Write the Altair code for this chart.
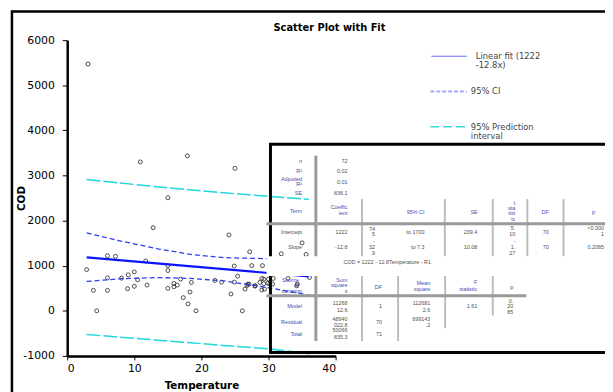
import altair as alt
import pandas as pd

# ---------------- data ----------------
temperature = [3.1, 10.9, 17.9, 25.0, 15.0, 12.8, 24.1,
               2.9, 3.9, 4.4, 6.0, 7.2, 6.0, 6.0, 8.1, 9.1, 10.0, 9.0, 10.0, 10.5, 11.7, 11.9,
               15.0, 15.0, 15.0, 15.9, 15.9, 16.4, 16.9, 17.3, 18.0, 18.3, 18.5, 19.2,
               22.0, 23.0, 24.4, 24.9, 24.9, 25.4, 26.1, 26.5, 26.8, 27.2, 27.5, 28.0, 28.7,
               29.0, 29.1, 29.4, 29.3, 30.2, 29.9,
               31.9, 35.0, 35.6, 36.1, 32.9, 34.2, 30.6, 28.0, 29.0, 27.1, 30.7, 30.0, 34.3,
               29.3, 26.9]
cod = [5470, 3300, 3436, 3158, 2507, 1842, 1682,
       914, 453, 0, 1221, 1206, 731, 453, 724, 797, 862, 490, 542, 687, 1104, 570,
       1002, 892, 497, 607, 533, 570, 702, 292, 153, 417, 629, 0,
       673, 636, 373, 993, 636, 768, 0, 482, 563, 1309, 1002, 548, 629,
       717, 1002, 482, 702, 592, 614,
       1265, 1506, 1250, 739, 717, 555, 592, 555, 460, 592, 717, 702, 592,
       600, 590]

fit_temperature = [2.9, 36.0]
fit_cod = [1185, 761]

ci_temperature = [2.9, 8.0, 13.5, 18.4, 23.3, 29.7, 36.0]
ci_upper = [1726, 1545, 1375, 1250, 1178, 1156, 1185]
ci_lower = [651, 712, 737, 717, 664, 520, 350]

pi_temperature = [2.9, 13.5, 23.3, 30.2, 36.0]
pi_upper = [2910, 2748, 2616, 2535, 2471]
pi_lower = [-526, -651, -768, -845, -950]

x_ticks = [0, 10, 20, 30, 40]
y_ticks = [-1000, 0, 1000, 2000, 3000, 4000, 5000, 6000]

title_text = "Scatter Plot with Fit"
legend_texts = ["Linear fit (1222", "-12.8x)", "95% CI", "95% Prediction", "interval"]
caption_text = "COD = 1222 - 12.8Temperature - R1"

# table text: (text, right-edge x, y, kind)  kind: L = blue label, V = grey value
table_cells = [
    ("n", 306, 160, "L"), ("R²", 306, 171, "L"), ("Adjusted", 306, 179, "L"), ("R²", 306, 184, "L"),
    ("SE", 306, 192.7, "L"),
    ("72", 352, 160, "V"), ("0.02", 352, 171, "V"), ("0.01", 352, 182, "V"), ("836.1", 352, 192.7, "V"),
    ("Term", 306, 211, "L"), ("Coeffic", 352, 207.5, "L"), ("ient", 352, 213.5, "L"),
    ("95% CI", 430, 212, "L"), ("SE", 484, 212, "L"),
    ("t", 522, 202.7, "L"), ("sta", 522, 208, "L"), ("tist", 522, 213.5, "L"), ("ic", 522, 219, "L"),
    ("DF", 556, 212, "L"), ("p", 603, 212, "L"),
    ("Intercept", 306, 232, "V"), ("1222", 352, 232, "V"), ("74", 380, 229.3, "V"), ("5", 380, 234.5, "V"),
    ("to 1700", 430, 232, "V"), ("239.4", 483.5, 232, "V"), ("5.", 522, 228.5, "V"), ("10", 522, 234.5, "V"),
    ("70", 556, 232, "V"), ("<0.000", 612, 228.5, "V"), ("1", 612, 234.8, "V"),
    ("Slope", 306, 247.7, "V"), ("-12.8", 352, 247.7, "V"), ("-", 380, 241.7, "V"), ("32", 380, 247.7, "V"),
    (".9", 380, 253.3, "V"), ("to 7.3", 430, 247.7, "V"), ("10.08", 483.5, 247.7, "V"),
    ("-", 522, 241.7, "V"), ("1.", 522, 247.7, "V"), ("27", 522, 253.3, "V"),
    ("70", 556, 247.7, "V"), ("0.2085", 612, 247.7, "V"),
    ("Source", 303, 281, "L"), ("of", 303, 286.3, "L"), ("variation", 306, 292.3, "L"),
    ("Sum", 352, 280.7, "L"), ("square", 352, 286.3, "L"), ("s", 352, 292.3, "L"),
    ("DF", 387, 287.7, "L"), ("Mean", 436, 284, "L"), ("square", 436, 290, "L"),
    ("F", 483.5, 282.7, "L"), ("statistic", 483.5, 290, "L"), ("p", 520, 288, "L"),
    ("Model", 306, 307.7, "L"), ("11268", 352, 304.5, "V"), ("12.6", 352, 311, "V"), ("1", 387, 307.7, "V"),
    ("112681", 436, 304.5, "V"), ("2.6", 436, 311, "V"), ("1.61", 483.5, 307.7, "V"),
    ("0.", 520, 302, "V"), ("20", 520, 307.7, "V"), ("85", 520, 313.3, "V"),
    ("Residual", 306, 324, "L"), ("48940", 352, 321, "V"), ("022.8", 352, 326.5, "V"), ("70", 387, 324, "V"),
    ("699143", 436, 321, "V"), (".2", 436, 327, "V"),
    ("Total", 306, 336, "L"), ("50066", 352, 331.7, "V"), ("835.3", 352, 338.5, "V"), ("71", 387, 336, "V"),
]

# table separators: (x1, x2, y1, y2, colour, width) in page pixels
table_rules = [
    (320, 320, 155, 343, "#9a9a9a", 3),
    (366.7, 366.7, 199, 258, "#bdbdbd", 2), (450.7, 450.7, 199, 258, "#bdbdbd", 2),
    (499.3, 499.3, 199, 258, "#bdbdbd", 2), (534.3, 534.3, 199, 258, "#bdbdbd", 2),
    (571, 571, 199, 258, "#bdbdbd", 2),
    (366.7, 366.7, 277, 343, "#bdbdbd", 2), (403.3, 403.3, 277, 343, "#bdbdbd", 2),
    (451, 451, 277, 330, "#bdbdbd", 2), (499.3, 499.3, 277, 317, "#bdbdbd", 2),
    (270, 620, 224, 224, "#9a9a9a", 3), (270, 533.3, 297, 297, "#9a9a9a", 3),
]

# ---------------- layout ----------------
X0, Y0 = 68, 38          # page position of the plot origin
W, H = 272, 320

xs = alt.Scale(domain=[0, 40], nice=False, zero=False)
ys = alt.Scale(domain=[-1000, 6000], nice=False, zero=False)
FONT = "DejaVu Sans"
TFONT = "Liberation Sans"

one = pd.DataFrame({"k": [0]})

x_axis = alt.Axis(
    values=x_ticks, title="Temperature", grid=False,
    labelFont=FONT, labelFontSize=11, labelColor="black", labelPadding=3,
    tickColor="black", tickSize=4, tickWidth=1,
    domainColor="black", domainWidth=2.5,
    titleFont=FONT, titleFontSize=10.5, titleFontWeight="bold", titleColor="black",
    titlePadding=7)
y_axis = alt.Axis(
    values=y_ticks, title="COD", grid=False, labelExpr="'' + datum.value",
    labelFont=FONT, labelFontSize=11, labelColor="black", labelPadding=8,
    tickColor="black", tickSize=5, tickWidth=1,
    domainColor="black", domainWidth=2.5,
    titleFont=FONT, titleFontSize=10.5, titleFontWeight="bold", titleColor="black",
    titleX=-46, titleY=160, titleAngle=270, titleAlign="center", titleBaseline="middle")

enc = dict(x=alt.X("Temperature:Q", scale=xs, axis=x_axis, title="Temperature"),
           y=alt.Y("COD:Q", scale=ys, axis=y_axis, title="COD"))

pts = pd.DataFrame({"Temperature": temperature, "COD": cod})
points = alt.Chart(pts).mark_point(shape="circle", filled=False, size=16, color="#222222",
                                    strokeWidth=0.8, opacity=1).encode(**enc)


def band(tvals, upper, lower):
    n = len(tvals)
    return pd.DataFrame({"Temperature": list(tvals) * 2, "COD": list(upper) + list(lower),
                         "bound": ["upper"] * n + ["lower"] * n})


pi_lines = alt.Chart(band(pi_temperature, pi_upper, pi_lower)).mark_line(
    color="#1fd6de", strokeWidth=1.5, strokeDash=[14, 3]).encode(detail="bound:N", **enc)
ci_lines = alt.Chart(band(ci_temperature, ci_upper, ci_lower)).mark_line(
    color="#2a3cf5", strokeWidth=1.3, strokeDash=[5, 3]).encode(detail="bound:N", **enc)
fit_line = alt.Chart(pd.DataFrame({"Temperature": fit_temperature, "COD": fit_cod})).mark_line(
    color="#0a14ff", strokeWidth=2.2).encode(**enc)

# ---- annotation layers in pixels (value channels only, no scales) ----
frame = alt.Chart(one).mark_rect(filled=False, stroke="black", strokeWidth=2.5).encode(
    x=alt.value(12 - X0), x2=alt.value(800), y=alt.value(9 - Y0), y2=alt.value(700))

table_box = alt.Chart(one).mark_rect(filled=False, stroke="black", strokeWidth=3).encode(
    x=alt.value(274 - X0), x2=alt.value(800), y=alt.value(143.5 - Y0), y2=alt.value(354.5 - Y0))

sep_layers = []
for (x1, x2, y1, y2, c, w) in table_rules:
    sep_layers.append(alt.Chart(one).mark_rule(color=c, strokeWidth=w).encode(
        x=alt.value(x1 - X0), x2=alt.value(x2 - X0), y=alt.value(y1 - Y0), y2=alt.value(y2 - Y0)))

white_band = alt.Chart(one).mark_rect(color="white").encode(
    x=alt.value(270 - X0), x2=alt.value(800), y=alt.value(257 - Y0), y2=alt.value(277 - Y0))

COL = {"L": "#4848b0", "V": "#505050"}
text_layers = []
for (t, x, y, kind) in table_cells:
    text_layers.append(alt.Chart(one).mark_text(
        align="right", baseline="middle", font=TFONT, fontSize=5.5, color=COL[kind], text=t).encode(
        x=alt.value(x - X0), y=alt.value(y - Y0)))

caption = alt.Chart(one).mark_text(
    align="center", baseline="middle", font=TFONT, fontSize=5.5, color="#505050", text=caption_text).encode(
    x=alt.value(392.3 - X0), y=alt.value(262.7 - Y0))

title = alt.Chart(one).mark_text(
    align="left", baseline="alphabetic", font=FONT, fontSize=10, fontWeight="bold", color="black",
    text=title_text).encode(x=alt.value(277 - X0), y=alt.value(28.7 - Y0))

lg_fit = alt.Chart(one).mark_rule(color="#6c6cff", strokeWidth=1).encode(
    x=alt.value(437 - X0), x2=alt.value(473 - X0), y=alt.value(54.3 - Y0))
lg_ci = alt.Chart(one).mark_rule(color="#a6a6ff", strokeWidth=2, strokeDash=[4, 2]).encode(
    x=alt.value(436 - X0), x2=alt.value(473 - X0), y=alt.value(90 - Y0))
lg_pi = alt.Chart(one).mark_rule(color="#3fd8e0", strokeWidth=1.5, strokeDash=[9, 4]).encode(
    x=alt.value(436 - X0), x2=alt.value(473 - X0), y=alt.value(125.7 - Y0))

legend_pos = [(482, 54.3), (482, 63.7), (477, 90), (477, 125.7), (477, 134.7)]
legend_layers = []
for t, (x, y) in zip(legend_texts, legend_pos):
    legend_layers.append(alt.Chart(one).mark_text(
        align="left", baseline="middle", font=FONT, fontSize=8.5, color="#444444", text=t).encode(
        x=alt.value(x - X0), y=alt.value(y - Y0)))

chart = alt.layer(
    points, frame, pi_lines, ci_lines, fit_line, table_box, *sep_layers, white_band,
    *text_layers, caption, title, lg_fit, lg_ci, lg_pi, *legend_layers,
).properties(
    width=W, height=H,
    autosize=alt.AutoSizeParams(type="none"),
    padding={"left": X0 - 8, "top": Y0 - 8, "right": 605 - (X0 - 8) - W, "bottom": 384 - (Y0 - 8) - H},
    background="white",
).configure_view(stroke=None)

chart.save("out.html", embed_options={"renderer": "svg", "actions": False})
